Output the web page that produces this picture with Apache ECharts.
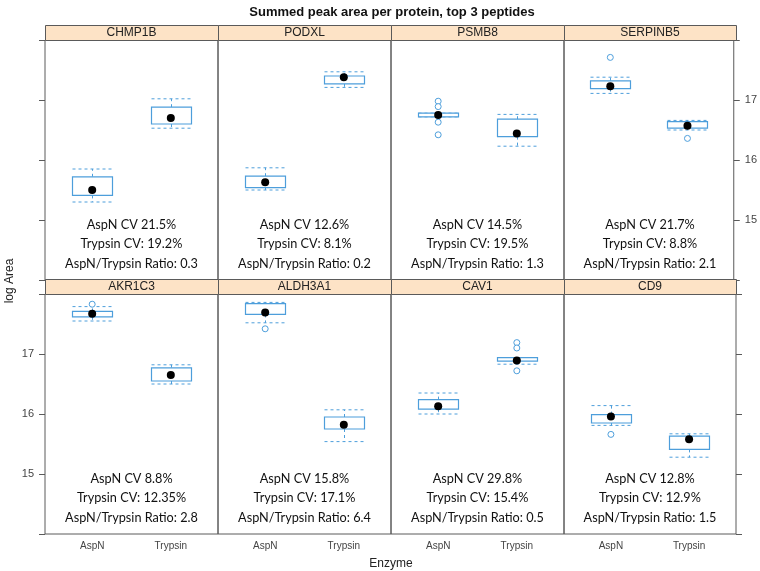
<!DOCTYPE html>
<html>
<head>
<meta charset="utf-8">
<script src="https://cdn.jsdelivr.net/npm/echarts@6/dist/echarts.min.js"></script>
<style>
  html, body { margin: 0; padding: 0; background: #fff; }
  #chart { width: 760px; height: 571px; }
</style>
</head>
<body>
<div id="chart"></div>
<script>
// panels, in lattice order (top row first)
const proteins = ['CHMP1B', 'PODXL', 'PSMB8', 'SERPINB5', 'AKR1C3', 'ALDH3A1', 'CAV1', 'CD9'];
const enzymes = ['AspN', 'Trypsin'];

// [AspN, Trypsin] per protein, log area
const whiskerLow  = [[15.30, 16.53], [15.50, 17.21], [16.72, 16.23], [17.11, 16.50], [17.55, 16.50], [17.52, 15.54], [16.00, 16.83], [15.81, 15.28]];
const boxLow      = [[15.41, 16.60], [15.54, 17.27], [16.72, 16.39], [17.19, 16.53], [17.62, 16.55], [17.66, 15.75], [16.08, 16.88], [15.85, 15.41]];
const medians     = [[15.50, 16.70], [15.63, 17.38], [16.75, 16.44], [17.23, 16.57], [17.67, 16.65], [17.69, 15.82], [16.13, 16.89], [15.96, 15.58]];
const boxHigh     = [[15.72, 16.88], [15.73, 17.40], [16.78, 16.68], [17.32, 16.64], [17.71, 16.77], [17.84, 15.95], [16.24, 16.94], [15.99, 15.63]];
const whiskerHigh = [[15.85, 17.02], [15.87, 17.47], [16.78, 16.76], [17.38, 16.66], [17.79, 16.82], [17.86, 16.07], [16.35, 16.94], [16.14, 15.67]];

// [panel, enzyme (1 = AspN, 2 = Trypsin), value]
const outliers = [
  [2, 1, 16.98], [2, 1, 16.89], [2, 1, 16.63], [2, 1, 16.42],
  [3, 1, 17.71], [3, 2, 16.36],
  [4, 1, 17.83],
  [5, 1, 17.42],
  [6, 2, 17.19], [6, 2, 17.10], [6, 2, 16.72],
  [7, 1, 15.66]
];

const aspnCV  = ['21.5%', '12.6%', '14.5%', '21.7%', '8.8%', '15.8%', '29.8%', '12.8%'];
const trypCV  = ['19.2%', '8.1%', '19.5%', '8.8%', '12.35%', '17.1%', '15.4%', '12.9%'];
const ratios  = ['0.3', '0.2', '1.3', '2.1', '2.8', '6.4', '0.5', '1.5'];

const yTickLabels = [15, 16, 17];

const chart = echarts.init(document.getElementById('chart'));

const colEdges = [45, 218, 391, 564, 736];
const rowTops = [40, 294];
const panelH = 240;
const stripH = 15;
const frame = '#5a5a5a';
const boxColor = '#4d9edb';
const font = 'Liberation Sans, Arial, sans-serif';

const grids = [], xAxes = [], yAxes = [], series = [], graphics = [];

proteins.forEach((name, i) => {
  const col = i % 4, row = Math.floor(i / 4);
  const left = colEdges[col], width = colEdges[col + 1] - colEdges[col];
  const top = rowTops[row];
  grids.push({ left, top, width, height: panelH, show: true, borderColor: frame, borderWidth: 1 });

  xAxes.push({
    gridIndex: i, type: 'value', min: 0.4, max: 2.6, interval: 0.2,
    axisLine: { show: false }, axisTick: { show: false }, splitLine: { show: false },
    axisLabel: {
      show: row === 1, color: '#444', fontSize: 10, fontFamily: font, margin: 7,
      showMinLabel: false, showMaxLabel: false,
      formatter: v => Math.abs(v - 1) < 1e-6 ? enzymes[0] : (Math.abs(v - 2) < 1e-6 ? enzymes[1] : '')
    }
  });

  const hasAxis = col === 0 || col === 3;
  const labelled = (col === 0 && row === 1) || (col === 3 && row === 0);
  yAxes.push({
    gridIndex: i, type: 'value', min: 14, max: 18, interval: 1,
    position: col === 3 ? 'right' : 'left',
    axisLine: { show: false },
    axisTick: { show: hasAxis, length: 6, lineStyle: { color: frame } },
    splitLine: { show: false },
    axisLabel: {
      show: labelled, color: '#444', fontSize: 11, fontFamily: font, margin: 11,
      formatter: v => yTickLabels.includes(v) ? String(v) : ''
    }
  });

  const boxes = enzymes.map((e, k) => [k + 1, whiskerLow[i][k], boxLow[i][k], medians[i][k], boxHigh[i][k], whiskerHigh[i][k]]);

  series.push({
    type: 'custom', xAxisIndex: i, yAxisIndex: i, data: boxes, silent: true,
    renderItem: (params, api) => {
      const x = api.value(0);
      const half = 20;
      const pLow = api.coord([x, api.value(1)]);
      const pQ1 = api.coord([x, api.value(2)]);
      const pQ3 = api.coord([x, api.value(4)]);
      const pHigh = api.coord([x, api.value(5)]);
      const cx = Math.round(pQ1[0]) + 0.5;
      const dash = { stroke: boxColor, lineWidth: 1, lineDash: [3, 3] };
      return {
        type: 'group',
        children: [
          { type: 'line', shape: { x1: cx, y1: pQ3[1], x2: cx, y2: pHigh[1] }, style: dash },
          { type: 'line', shape: { x1: cx, y1: pQ1[1], x2: cx, y2: pLow[1] }, style: dash },
          { type: 'line', shape: { x1: cx - half, y1: pHigh[1], x2: cx + half, y2: pHigh[1] }, style: dash },
          { type: 'line', shape: { x1: cx - half, y1: pLow[1], x2: cx + half, y2: pLow[1] }, style: dash },
          { type: 'rect', shape: { x: cx - half, y: pQ3[1], width: half * 2, height: pQ1[1] - pQ3[1] },
            style: { fill: '#fff', stroke: boxColor, lineWidth: 1.2 } }
        ]
      };
    }
  });

  series.push({
    type: 'scatter', xAxisIndex: i, yAxisIndex: i, silent: true, z: 3,
    symbol: 'circle', symbolSize: 6,
    itemStyle: { color: '#fff', borderColor: boxColor, borderWidth: 1, opacity: 1 },
    data: outliers.filter(o => o[0] === i).map(o => [o[1], o[2]])
  });

  series.push({
    type: 'scatter', xAxisIndex: i, yAxisIndex: i, silent: true, z: 4,
    symbol: 'circle', symbolSize: 8, itemStyle: { color: '#000', opacity: 1 },
    data: enzymes.map((e, k) => [k + 1, medians[i][k]])
  });

  // strip
  graphics.push({
    type: 'rect', shape: { x: left + 0.5, y: top - stripH + 0.5, width, height: stripH },
    style: { fill: '#fde3c6', stroke: frame, lineWidth: 1 }, z: 10
  });
  graphics.push({
    type: 'text', x: left + width / 2, y: top - stripH / 2 + 0.5, z: 11,
    style: { text: name, font: '12px ' + font, fill: '#222', textAlign: 'center', textVerticalAlign: 'middle' }
  });
  // annotation
  graphics.push({
    type: 'text', x: left + width / 2, y: top + 204, z: 11,
    style: {
      text: 'AspN CV ' + aspnCV[i] + '\nTrypsin CV: ' + trypCV[i] + '\nAspN/Trypsin Ratio: ' + ratios[i],
      font: '12.7px Lato, Carlito, sans-serif', lineHeight: 19.5, fill: '#111',
      textAlign: 'center', textVerticalAlign: 'middle'
    }
  });
});

graphics.push({
  type: 'text', x: 10, y: 281, rotation: Math.PI / 2,
  style: { text: 'log Area', font: '12px ' + font, fill: '#222', textAlign: 'center', textVerticalAlign: 'middle' }
});
graphics.push({
  type: 'text', x: 391, y: 564,
  style: { text: 'Enzyme', font: '12px ' + font, fill: '#222', textAlign: 'center', textVerticalAlign: 'middle' }
});

chart.setOption({
  animation: false,
  title: {
    text: 'Summed peak area per protein, top 3 peptides', left: 387, top: 1, textAlign: 'center',
    textStyle: { fontSize: 13, fontWeight: 'bold', fontFamily: font, color: '#111' }
  },
  grid: grids,
  xAxis: xAxes,
  yAxis: yAxes,
  series,
  graphic: graphics
});
</script>
</body>
</html>
